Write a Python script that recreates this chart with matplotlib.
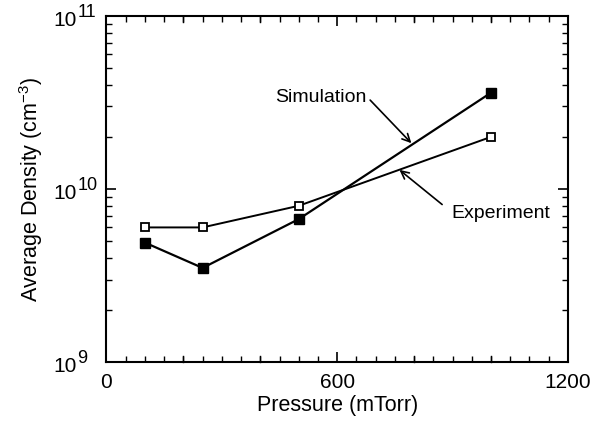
import matplotlib
matplotlib.use("Agg")
import matplotlib.pyplot as plt
from matplotlib.ticker import MultipleLocator, FixedLocator, LogLocator, NullFormatter, FixedFormatter

plt.rcParams['font.family'] = ['Liberation Sans', 'DejaVu Sans']
plt.rcParams['mathtext.fontset'] = 'custom'
plt.rcParams['mathtext.rm'] = 'Liberation Sans'
plt.rcParams['mathtext.it'] = 'Liberation Sans'

pressure = [100, 250, 500, 1000]
experiment = [6.0e9, 6.0e9, 8.0e9, 2.0e10]
simulation = [4.9e9, 3.5e9, 6.7e9, 3.6e10]

x_ticks = [0, 600, 1200]
x_tick_labels = ["0", "600", "1200"]
y_ticks = [1e9, 1e10, 1e11]
y_tick_exponents = ["9", "10", "11"]

fig = plt.figure(figsize=(5.9, 4.25), dpi=100)
ax = fig.add_axes([0.1805, 0.148, 0.782, 0.8145])

ax.plot(pressure, simulation, color='black', lw=1.6, marker='s', ms=6.5,
        mfc='black', mec='black', zorder=3)
ax.plot(pressure, experiment, color='black', lw=1.4, marker='s', ms=5.8,
        mfc='white', mec='black', mew=1.3, zorder=3)

ax.set_yscale('log')
ax.set_xlim(0, 1200)
ax.set_ylim(1e9, 1e11)

ax.xaxis.set_major_locator(FixedLocator(x_ticks))
ax.xaxis.set_major_formatter(FixedFormatter(x_tick_labels))
ax.xaxis.set_minor_locator(MultipleLocator(50))
ax.yaxis.set_major_locator(FixedLocator(y_ticks))
ax.yaxis.set_major_formatter(NullFormatter())
ax.yaxis.set_minor_locator(LogLocator(base=10, subs=range(2, 10)))
ax.yaxis.set_minor_formatter(NullFormatter())

# y tick labels: "10" with a raised exponent
for yv, ex in zip(y_ticks, y_tick_exponents):
    ax.annotate("10", xy=(0, yv), xycoords=('axes fraction', 'data'),
                xytext=(-21.5, -7), textcoords='offset points',
                ha='right', va='baseline', fontsize=15, annotation_clip=False)
    ax.annotate(ex, xy=(0, yv), xycoords=('axes fraction', 'data'),
                xytext=(-21.0, -0.5), textcoords='offset points',
                ha='left', va='baseline', fontsize=13, annotation_clip=False)

# intermediate (unlabelled) major-length x ticks every 200
for xv in range(200, 1200, 200):
    if xv != 600:
        ax.plot([xv, xv], [1e9, 10**(9 + 6/173)], color='black', lw=1.0, zorder=2, clip_on=False)
        ax.plot([xv, xv], [1e11, 10**(11 - 6/173)], color='black', lw=1.0, zorder=2, clip_on=False)

ax.tick_params(which='both', direction='in', top=True, right=True, color='black')
ax.tick_params(which='major', length=7, width=1.2, labelsize=15, pad=8)
ax.tick_params(which='minor', length=4, width=1.0)

for s in ax.spines.values():
    s.set_linewidth(1.5)

ax.set_xlabel("Pressure (mTorr)", fontsize=15.5, labelpad=2)
ax.set_ylabel(r"Average Density (cm$^{-3}$)", fontsize=15.5, labelpad=36)

ax.annotate("Simulation", xy=(793, 1.84e10), xytext=(676, 3.4e10),
            fontsize=14, ha='right', va='center',
            arrowprops=dict(arrowstyle='->', color='black', lw=1.2,
                            shrinkA=1, shrinkB=0, mutation_scale=14,
                            relpos=(1.0, 0.55)))
ax.annotate("Experiment", xy=(762, 1.29e10), xytext=(897, 7.2e9),
            fontsize=14, ha='left', va='center',
            arrowprops=dict(arrowstyle='->', color='black', lw=1.2,
                            shrinkA=6, shrinkB=0, mutation_scale=14,
                            relpos=(0.0, 0.6)))

fig.savefig("out.png", dpi=100)
